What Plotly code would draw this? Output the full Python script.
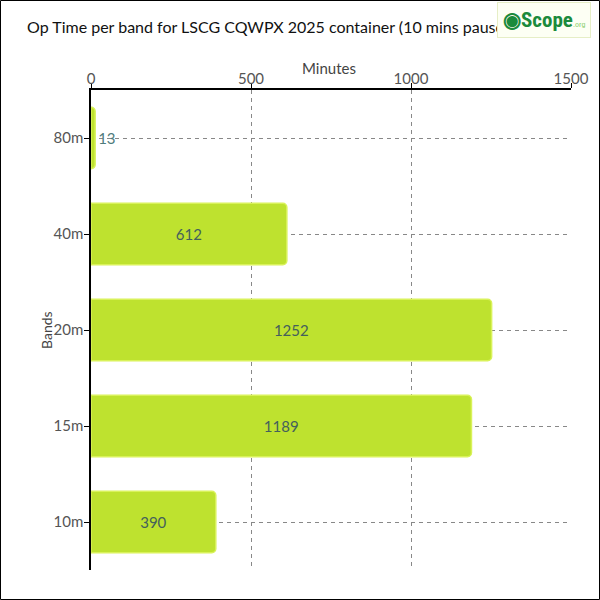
import plotly.graph_objects as go

bands = ["80m", "40m", "20m", "15m", "10m"]
minutes = [13, 612, 1252, 1189, 390]
x_ticks = [0, 500, 1000, 1500]

W, H = 600, 600
L, R, T, B = 91, 29, 90, 30
pw, ph = W - L - R, H - T - B

def px(x):
    return (x - L) / pw

def py(y):
    return (H - B - y) / ph

fig = go.Figure()
fig.add_trace(go.Bar(
    y=bands, x=minutes, orientation="h", width=0.64,
    marker=dict(color="#bee22f", line=dict(color="#d9f25a", width=1.5), cornerradius=4),
    text=[str(v) for v in minutes], textposition="auto",
    insidetextanchor="middle",
    insidetextfont=dict(color="#44605c", size=15),
    outsidetextfont=dict(color="#4f7c7c", size=15),
    cliponaxis=False,
))

font = "Lato"
fig.update_layout(
    width=W, height=H, margin=dict(l=L, r=R, t=T, b=B, autoexpand=False),
    paper_bgcolor="white", plot_bgcolor="white",
    font=dict(family=font, color="#444", size=15),
    showlegend=False,
    title=dict(text="Op Time per band for LSCG CQWPX 2025 container (10 mins pause)",
               x=27 / W, xanchor="left", y=1 - 27 / H, yanchor="middle", yref="container",
               font=dict(size=16, color="#111", family=font)),
    xaxis=dict(side="top", range=[0, 1500], tickvals=x_ticks, ticks="outside", ticklen=5,
               tickcolor="#000", showline=True, linecolor="#000", linewidth=1.5,
               showgrid=True, gridcolor="#888", griddash="4px,4px", gridwidth=1,
               zeroline=False, automargin=False, ticklabelstandoff=-7,
               tickfont=dict(size=15, color="#555")),
    yaxis=dict(categoryorder="array", categoryarray=bands, autorange="reversed",
               ticks="outside", ticklen=5, tickcolor="#000", showline=True, linecolor="#000",
               linewidth=1.5, showgrid=True, gridcolor="#888", griddash="4px,4px", gridwidth=1,
               automargin=False, ticklabelstandoff=-2,
               tickfont=dict(size=15, color="#555")),
)

# axis titles
fig.add_annotation(xref="paper", yref="paper", x=px(329), y=py(68), xanchor="center", yanchor="middle",
                   text="Minutes", showarrow=False, font=dict(size=15, color="#444"))
fig.add_annotation(xref="paper", yref="paper", x=px(46), y=py(330), xanchor="center", yanchor="middle",
                   text="Bands", textangle=-90, showarrow=False, font=dict(size=14, color="#444"))

# outer border
fig.add_shape(type="rect", xref="paper", yref="paper",
              x0=px(0.5), x1=px(W - 0.5), y0=py(H - 0.5), y1=py(0.5),
              line=dict(color="#000", width=1), fillcolor="rgba(0,0,0,0)", layer="above")

# logo
fig.add_annotation(xref="paper", yref="paper", x=px(544), y=py(20), xanchor="center", yanchor="middle",
                   text="<span style='color:#1b8a3c'><b>◉Scope</b></span><span style='font-size:8px;color:#8ccf70'>.org</span>",
                   showarrow=False, bgcolor="#fdfff4", bordercolor="#e6eec6", borderwidth=1, borderpad=5,
                   font=dict(size=21, family="Roboto Condensed, Roboto"))

fig.write_html("out.html", config={"displayModeBar": False},
               post_script="document.body.style.margin='0';")
